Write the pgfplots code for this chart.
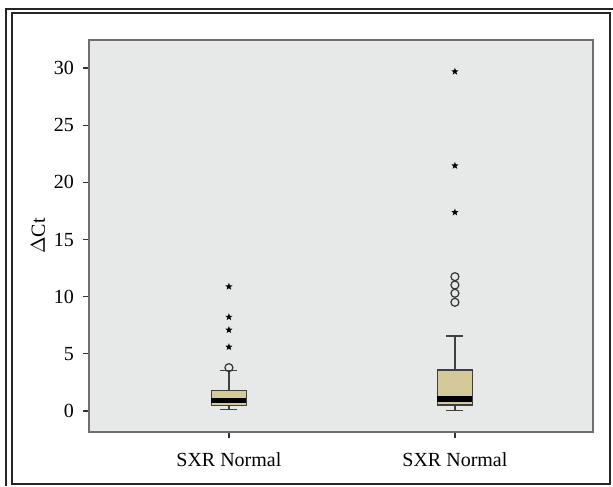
\documentclass[border=0pt]{standalone}
\usepackage{pgfplots}
\pgfplotsset{compat=1.18}
\usepgfplotslibrary{statistics}
\usepackage{fontspec}
\setmainfont{Liberation Serif}

\definecolor{plotbg}{RGB}{231,233,233}
\definecolor{boxfill}{RGB}{211,201,153}
\definecolor{axgray}{RGB}{110,110,110}

% filled five-pointed star mark
\pgfdeclareplotmark{fstar}{%
  \pgfpathmoveto{\pgfpointpolar{90}{\pgfplotmarksize}}%
  \pgfpathlineto{\pgfpointpolar{126}{0.42\pgfplotmarksize}}%
  \pgfpathlineto{\pgfpointpolar{162}{\pgfplotmarksize}}%
  \pgfpathlineto{\pgfpointpolar{198}{0.42\pgfplotmarksize}}%
  \pgfpathlineto{\pgfpointpolar{234}{\pgfplotmarksize}}%
  \pgfpathlineto{\pgfpointpolar{270}{0.42\pgfplotmarksize}}%
  \pgfpathlineto{\pgfpointpolar{306}{\pgfplotmarksize}}%
  \pgfpathlineto{\pgfpointpolar{342}{0.42\pgfplotmarksize}}%
  \pgfpathlineto{\pgfpointpolar{18}{\pgfplotmarksize}}%
  \pgfpathlineto{\pgfpointpolar{54}{0.42\pgfplotmarksize}}%
  \pgfpathclose
  \pgfusepathqfill
}

\begin{document}
\begin{tikzpicture}
\useasboundingbox (0,0) rectangle (306.5pt,243pt);
% frame
\draw[line width=1pt, black!85] (6pt,1pt) rectangle (305pt,236.5pt);
\draw[line width=1pt, black!85] (3pt,0pt) -- (3pt,238.5pt) -- (306.5pt,238.5pt);

\begin{axis}[
    at={(44.5pt,27pt)}, anchor=south west,
    scale only axis,
    width=252pt, height=196pt,
    xmin=0.381, xmax=2.611,
    ymin=-1.84, ymax=32.46,
    axis background/.style={fill=plotbg},
    axis line style={axgray, line width=0.6pt},
    tick style={black!80, line width=0.6pt},
    tick align=outside,
    major tick length=3pt,
    xtick={1,2},
    xticklabels={SXR Normal, SXR Normal},
    ytick={0,5,...,30},
    xtick pos=bottom, ytick pos=left,
    /pgf/number format/assume math mode=true,
    tick label style={font=\fontsize{10}{12}\selectfont},
    yticklabel style={xshift=-1pt},
    xticklabel style={yshift=-4pt},
    ylabel={$\Delta$Ct},
    ylabel style={at={(axis description cs:-0.101,0.5)}, anchor=center, font=\fontsize{10}{12}\selectfont},
    boxplot/draw direction=y,
    boxplot/every median/.style={line width=2.6pt, black},
    boxplot/box extend=0.155,
    boxplot/whisker extend=0.075,
]
\addplot[boxplot prepared={draw position=1,
    lower whisker=0.1, lower quartile=0.47, median=0.92,
    upper quartile=1.78, upper whisker=3.53},
    draw=black!75, line width=0.6pt, fill=boxfill] coordinates {};
\addplot[boxplot prepared={draw position=2,
    lower whisker=0.05, lower quartile=0.52, median=1.05,
    upper quartile=3.59, upper whisker=6.56},
    draw=black!75, line width=0.6pt, fill=boxfill] coordinates {};

% mild outliers (circles)
\addplot[only marks, mark=o, mark size=2pt, black!80, line width=0.6pt]
  coordinates {(1,3.79) (2,9.51) (2,10.3) (2,11.02) (2,11.75)};
% extreme outliers (stars)
\addplot[only marks, mark=fstar, mark size=1.9pt, black]
  coordinates {(1,5.6) (1,7.09) (1,8.22) (1,10.88) (2,17.38) (2,21.46) (2,29.7)};
\end{axis}
\end{tikzpicture}
\end{document}
